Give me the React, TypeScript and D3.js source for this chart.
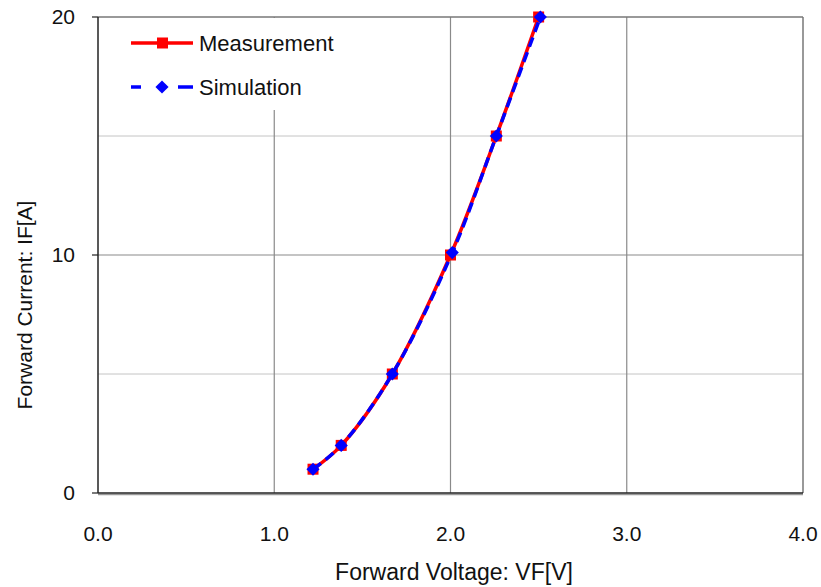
import { useEffect, useRef } from "react";
import * as d3 from "d3";

const measVoltage = [1.22, 1.38, 1.67, 2.0, 2.26, 2.5];
const measCurrent = [1, 2, 5, 10, 15, 20];
const simVoltage = [1.22, 1.38, 1.67, 2.01, 2.26, 2.51];
const simCurrent = [1, 2, 5, 10.1, 15, 20];
const xTicks = [0, 1, 2, 3, 4];
const yTicks = [0, 10, 20];
const yMinorGrid = [5, 15];

const FONT = "Liberation Sans, Arial, sans-serif";

export default function App() {
  const svgRef = useRef<SVGSVGElement | null>(null);

  useEffect(() => {
    if (!svgRef.current) return;
    const width = 821;
    const height = 587;
    const margin = { top: 17, right: 18, bottom: 94, left: 98 };
    const w = width - margin.left - margin.right;
    const h = height - margin.top - margin.bottom;

    const svg = d3.select(svgRef.current);
    svg.selectAll("*").remove();
    svg.attr("width", width).attr("height", height);
    svg.append("rect").attr("width", width).attr("height", height).attr("fill", "#fff");

    const g = svg.append("g").attr("transform", `translate(${margin.left},${margin.top})`);
    const x = d3.scaleLinear().domain([0, 4]).range([0, w]);
    const y = d3.scaleLinear().domain([0, 20]).range([h, 0]);

    // grid
    g.selectAll(".hminor").data(yMinorGrid).join("line")
      .attr("x1", 0).attr("x2", w).attr("y1", d => y(d)).attr("y2", d => y(d))
      .attr("stroke", "#c4c4c4").attr("stroke-width", 1);
    g.selectAll(".hmajor").data(yTicks.slice(1, -1)).join("line")
      .attr("x1", 0).attr("x2", w).attr("y1", d => y(d)).attr("y2", d => y(d))
      .attr("stroke", "#8a8a8a").attr("stroke-width", 1.2);
    g.selectAll(".vgrid").data(xTicks.slice(1, -1)).join("line")
      .attr("x1", d => x(d)).attr("x2", d => x(d)).attr("y1", 0).attr("y2", h)
      .attr("stroke", "#8a8a8a").attr("stroke-width", 1.2);

    // frame
    g.append("line").attr("x1", 0).attr("x2", w).attr("y1", 0).attr("y2", 0)
      .attr("stroke", "#777").attr("stroke-width", 1.5);
    g.append("line").attr("x1", w).attr("x2", w).attr("y1", 0).attr("y2", h)
      .attr("stroke", "#777").attr("stroke-width", 1.5);
    g.append("line").attr("x1", 0).attr("x2", w).attr("y1", h + 1.5).attr("y2", h + 1.5)
      .attr("stroke", "#999").attr("stroke-width", 1.5);
    g.append("line").attr("x1", 0).attr("x2", w).attr("y1", h).attr("y2", h)
      .attr("stroke", "#222").attr("stroke-width", 1.5);
    g.append("line").attr("x1", 0).attr("x2", 0).attr("y1", 0).attr("y2", h)
      .attr("stroke", "#222").attr("stroke-width", 1.5);

    // legend background
    g.append("rect").attr("x", 2).attr("y", 1).attr("width", 250).attr("height", 92).attr("fill", "#fff");

    // y ticks
    g.selectAll(".ytick").data(yTicks).join("line")
      .attr("x1", -6).attr("x2", 0).attr("y1", d => y(d)).attr("y2", d => y(d))
      .attr("stroke", "#222").attr("stroke-width", 1.2);
    g.selectAll(".ylab").data(yTicks).join("text")
      .attr("x", -23).attr("y", d => y(d) + 7)
      .attr("text-anchor", "end").attr("font-family", FONT)
      .attr("font-size", 21).attr("fill", "#111").text(d => d);

    g.selectAll(".xlab").data(xTicks).join("text")
      .attr("x", d => x(d)).attr("y", 541 - margin.top)
      .attr("text-anchor", "middle").attr("font-family", FONT)
      .attr("font-size", 21).attr("fill", "#111").text(d => d.toFixed(1));

    svg.append("text")
      .attr("x", 454).attr("y", 580)
      .attr("text-anchor", "middle").attr("font-family", FONT)
      .attr("font-size", 23).attr("fill", "#111").text("Forward Voltage: VF[V]");

    svg.append("text")
      .attr("transform", "rotate(-90)")
      .attr("x", -305).attr("y", 32)
      .attr("text-anchor", "middle").attr("font-family", FONT)
      .attr("font-size", 21).attr("fill", "#111").text("Forward Current: IF[A]");

    const line = d3.line<[number, number]>()
      .x(d => x(d[0])).y(d => y(d[1]))
      .curve(d3.curveCatmullRom.alpha(0.5));

    const meas: [number, number][] = measVoltage.map((v, i) => [v, measCurrent[i]]);
    const sim: [number, number][] = simVoltage.map((v, i) => [v, simCurrent[i]]);

    g.append("path").datum(meas).attr("d", line)
      .attr("fill", "none").attr("stroke", "#ff0000").attr("stroke-width", 3.5);
    g.selectAll(".msq").data(meas).join("rect")
      .attr("x", d => x(d[0]) - 5.5).attr("y", d => y(d[1]) - 5.5)
      .attr("width", 11).attr("height", 11).attr("fill", "#ff0000");

    g.append("path").datum(sim).attr("d", line)
      .attr("fill", "none").attr("stroke", "#0000ff").attr("stroke-width", 3.5)
      .attr("stroke-dasharray", "10,6");
    const diamond = d3.symbol().type(d3.symbolDiamond2).size(110);
    g.selectAll(".sdm").data(sim).join("path")
      .attr("transform", d => `translate(${x(d[0])},${y(d[1])})`)
      .attr("d", diamond).attr("fill", "#0000ff");

    // legend
    const lg = svg.append("g");
    lg.append("line").attr("x1", 131).attr("x2", 193).attr("y1", 43).attr("y2", 43)
      .attr("stroke", "#ff0000").attr("stroke-width", 3.5);
    lg.append("rect").attr("x", 157).attr("y", 37.5).attr("width", 11).attr("height", 11).attr("fill", "#ff0000");
    lg.append("text").attr("x", 199).attr("y", 51)
      .attr("font-family", FONT).attr("font-size", 22)
      .attr("fill", "#111").text("Measurement");

    lg.append("line").attr("x1", 131).attr("x2", 193).attr("y1", 87).attr("y2", 87)
      .attr("stroke", "#0000ff").attr("stroke-width", 3.5).attr("stroke-dasharray", "10,37,15");
    lg.append("path").attr("transform", "translate(162,87)").attr("d", diamond).attr("fill", "#0000ff");
    lg.append("text").attr("x", 199).attr("y", 95)
      .attr("font-family", FONT).attr("font-size", 22)
      .attr("fill", "#111").text("Simulation");
  }, []);

  return (
    <div style={{ position: "absolute", left: 0, top: 0 }}>
      <svg ref={svgRef} style={{ display: "block" }} />
    </div>
  );
}
